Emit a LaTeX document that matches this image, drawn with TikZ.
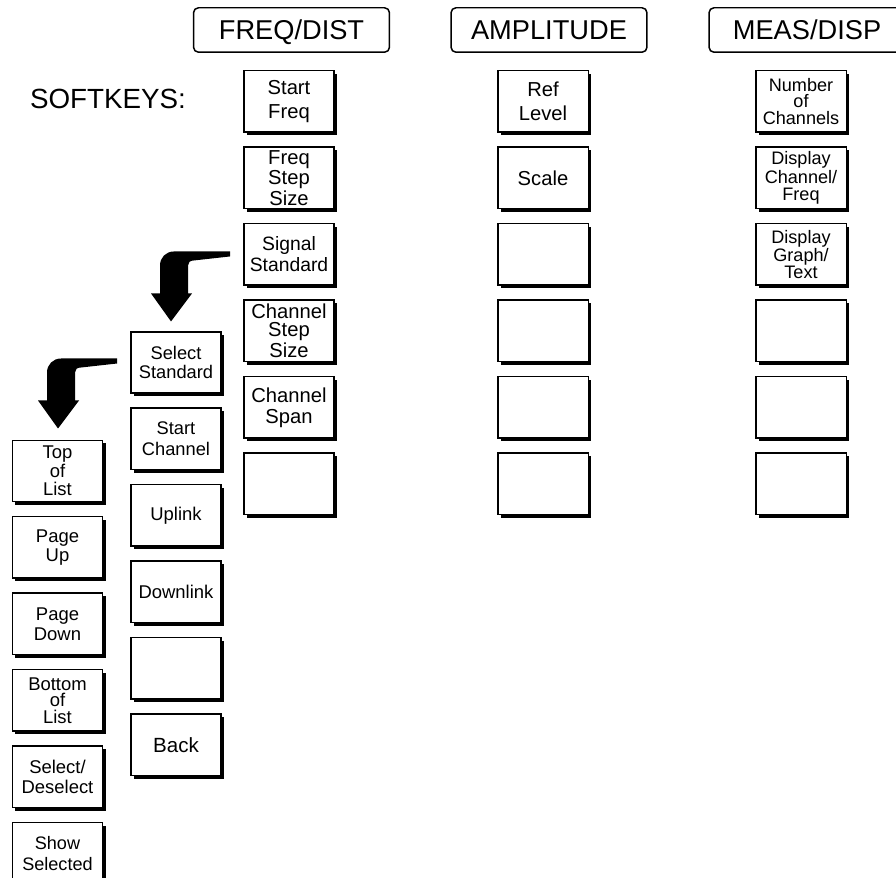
\documentclass[tikz,border=0pt]{standalone}
\usepackage{fontspec}
\setmainfont{Liberation Sans}
\usetikzlibrary{positioning,shadows,calc}

\begin{document}
\begin{tikzpicture}[x=0.02cm, y=-0.02cm, node distance=0.27cm,
    menu/.style={draw, line width=0.85pt, rounded corners=0.1cm, minimum width=3.92cm, minimum height=0.89cm, text height=11.3pt, text depth=0pt, font=\fontsize{15.5}{18}\selectfont},
    softkey/.style={draw, fill=white, line width=0.85pt, minimum width=1.81cm, minimum height=1.23cm, inner sep=1pt, align=center, font=\fontsize{11.5}{13.4}\selectfont, drop shadow={shadow xshift=0.06cm, shadow yshift=-0.06cm, fill=black, opacity=1}},
    keytext/.style 2 args={font=\fontsize{#1}{#2}\selectfont},
    bendarrow/.pic={
        \fill (0,0) -- (-56,0) .. controls (-64,0) and (-70,6) .. (-70,14) -- (-70,42) -- (-79,42) -- (-59,70) -- (-38,42) -- (-42,42) -- (-42,14) .. controls (-42,11) and (-40,9) .. (-36,9) -- (0,5) -- cycle;
    }]
    \useasboundingbox (0,0) rectangle (896,878);

    \node (softkeys) at (108,98.5) {\fontsize{15.8}{18}\selectfont SOFTKEYS:};

    % menu heads
    \node[menu] (freqdist) at (291.5,30) {FREQ/DIST};
    \node[menu] (amplitude) at (549,30) {AMPLITUDE};
    \node[menu] (measdisp) at (807,30) {MEAS/DISP};

    % FREQ/DIST softkeys
    \node[softkey] (startfreq) at (289,101.5) {Start\\Freq};
    \node[softkey, keytext={11.5}{10.2}, below=of startfreq] (freqstep) {Freq\\Step\\Size};
    \node[softkey, keytext={11}{11.9}, below=of freqstep] (sigstd) {Signal\\Standard};
    \node[softkey, keytext={11.5}{10.2}, below=of sigstd] (chanstep) {Channel\\Step\\Size};
    \node[softkey, keytext={11.5}{11.9}, below=of chanstep] (chanspan) {Channel\\Span};
    \node[softkey, below=of chanspan] (freqblank) {};

    % AMPLITUDE softkeys
    \node[softkey] (reflevel) at (543,101.5) {Ref\\Level};
    \node[softkey, below=of reflevel] (scale) {Scale};
    \node[softkey, below=of scale] (amplA) {};
    \node[softkey, below=of amplA] (amplB) {};
    \node[softkey, below=of amplB] (amplC) {};
    \node[softkey, below=of amplC] (amplD) {};

    % MEAS/DISP softkeys
    \node[softkey, keytext={10.3}{9.6}] (numchan) at (801,101.5) {Number\\of\\Channels};
    \node[softkey, keytext={10.3}{9.6}, below=of numchan] (dispchan) {Display\\Channel/\\Freq};
    \node[softkey, keytext={10.3}{9.6}, below=of dispchan] (dispgraph) {Display\\Graph/\\Text};
    \node[softkey, below=of dispgraph] (measA) {};
    \node[softkey, below=of measA] (measB) {};
    \node[softkey, below=of measB] (measC) {};

    % Signal Standard submenu
    \node[softkey, keytext={10.4}{11.3}] (selstd) at (176,362.5) {Select\\Standard};
    \node[softkey, keytext={10.4}{11.7}, below=of selstd] (startchan) {Start\\Channel};
    \node[softkey, keytext={10.5}{12}, below=of startchan] (uplink) {Uplink};
    \node[softkey, keytext={10.5}{12}, below=of uplink] (downlink) {Downlink};
    \node[softkey, below=of downlink] (selblank) {};
    \node[softkey, keytext={11.7}{13}, below=of selblank] (back) {Back};

    % Select Standard submenu
    \node[softkey, keytext={10.5}{10.6}] (toplist) at (57.5,471) {Top\\of\\List};
    \node[softkey, keytext={10.5}{11}, below=of toplist] (pageup) {Page\\Up};
    \node[softkey, keytext={10.5}{11.3}, below=of pageup] (pagedown) {Page\\Down};
    \node[softkey, keytext={10.5}{9.4}, below=of pagedown] (botlist) {Bottom\\of\\List};
    \node[softkey, keytext={10.5}{11.8}, below=of botlist] (seldesel) {Select/\\Deselect};
    \node[softkey, keytext={10.3}{11.7}, below=of seldesel] (showsel) {Show\\Selected};

    % bent arrows
    \pic at ($(sigstd.west)+(-13,-3)$) {bendarrow};
    \pic at ($(selstd.west)+(-13,-4)$) {bendarrow};
\end{tikzpicture}
\end{document}
